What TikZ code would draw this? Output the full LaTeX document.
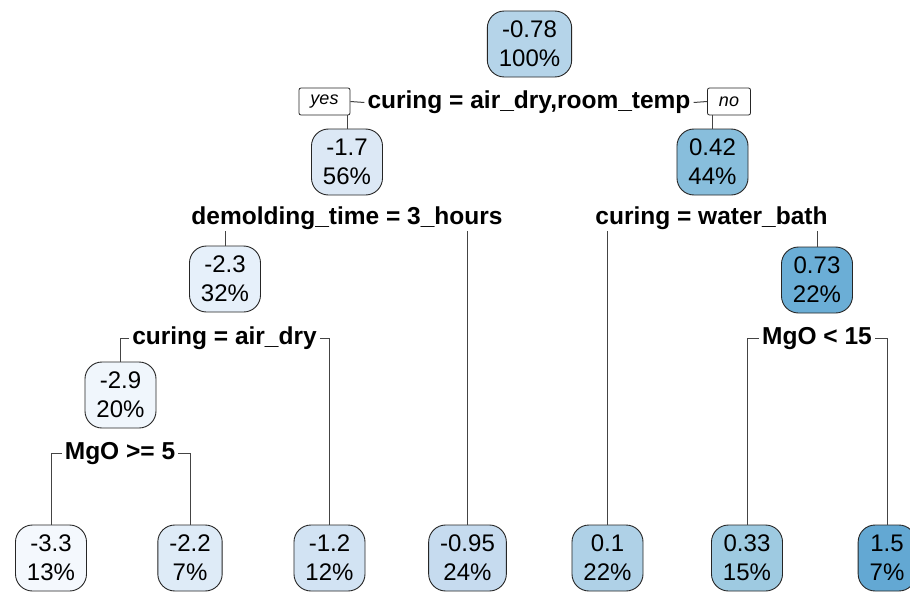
\documentclass[tikz,border=0pt]{standalone}
\usepackage{fontspec}
\setmainfont{Liberation Sans}
\definecolor{b01}{HTML}{F4F8FD}
\definecolor{b02}{HTML}{F0F6FC}
\definecolor{b03}{HTML}{E6F0FA}
\definecolor{b04}{HTML}{DEEBF7}
\definecolor{b05}{HTML}{DCE8F5}
\definecolor{b06}{HTML}{D2E3F3}
\definecolor{b07}{HTML}{C6DBEF}
\definecolor{b08}{HTML}{B5D4E9}
\definecolor{b09}{HTML}{AFD1E7}
\definecolor{b10}{HTML}{9ECAE1}
\definecolor{b11}{HTML}{88BEDC}
\definecolor{b12}{HTML}{6BAED6}
\definecolor{b13}{HTML}{63A8D3}
\definecolor{edge}{HTML}{444444}
\tikzset{
  treenode/.style={draw=black!85, line width=0.9pt, rounded corners=17pt,
    align=center, inner xsep=11.5pt, inner ysep=0pt, minimum height=66pt,
    font=\fontsize{24}{29}\selectfont},
  splitlabel/.style={inner xsep=3pt, inner ysep=1pt,
    font=\fontsize{24.5}{29}\selectfont\bfseries},
  answer/.style={draw=black!85, line width=0.8pt, rounded corners=2pt, fill=white,
    inner xsep=11.5pt, inner ysep=0pt, minimum height=27pt,
    font=\fontsize{18}{20}\selectfont\itshape},
  branch/.style={draw=edge, line width=1pt}
}
\begin{document}
\begin{tikzpicture}[x=1pt, y=-1pt]
\useasboundingbox (0,0) rectangle (910,594);
\fill[white] (0,0) rectangle (910,594);
\clip (0,0) rectangle (910,594);

% tree nodes: mean response and share of observations
\node[treenode, fill=b08] (n1)  at (529.5,44)  {-0.78\\100\%};
\node[treenode, fill=b05] (n2)  at (347,162)   {-1.7\\56\%};
\node[treenode, fill=b11] (n3)  at (712.5,162) {0.42\\44\%};
\node[treenode, fill=b03] (n4)  at (225,279)   {-2.3\\32\%};
\node[treenode, fill=b12] (n7)  at (817,280)   {0.73\\22\%};
\node[treenode, fill=b02] (n8)  at (120.5,395) {-2.9\\20\%};
\node[treenode, fill=b01] (n16) at (51,558)    {-3.3\\13\%};
\node[treenode, fill=b04] (n17) at (190,558)   {-2.2\\7\%};
\node[treenode, fill=b06] (n9)  at (329.5,558) {-1.2\\12\%};
\node[treenode, fill=b07] (n5)  at (467.5,558) {-0.95\\24\%};
\node[treenode, fill=b09] (n6)  at (607.5,558) {0.1\\22\%};
\node[treenode, fill=b10] (n14) at (747,558)   {0.33\\15\%};
\node[treenode, fill=b13] (n15) at (887,558)   {1.5\\7\%};

% split conditions
\node[splitlabel] (s1) at (529,102.5) {curing = air\_dry,room\_temp};
\node[splitlabel] (s2) at (347,218.5) {demolding\_time = 3\_hours};
\node[splitlabel] (s3) at (711.5,218.5) {curing = water\_bath};
\node[splitlabel] (s4) at (224.5,338.5) {curing = air\_dry};
\node[splitlabel] (s5) at (817,338.5) {MgO < 15};
\node[splitlabel] (s6) at (120,453.5) {MgO >= 5};

% yes / no tags at the root split
\node[answer] (yes) at (324.5,101.5) {yes};
\node[answer] (no)  at (729,101.5)   {no};

% branches
\draw[branch] (s1.west) -- (yes.east);
\draw[branch] (yes.south -| n2) -- (n2.north);
\draw[branch] (s1.east) -- (no.west);
\draw[branch] (no.south -| n3) -- (n3.north);

\draw[branch] (s2.south -| n4) -- (n4.north);
\draw[branch] (s2.south -| n5) -- (n5.north);

\draw[branch] (s3.south -| n6) -- (n6.north);
\draw[branch] (s3.south -| n7) -- (n7.north);

\draw[branch] (s4.west) -- (s4.west -| n8) -- (n8.north);
\draw[branch] (s4.east) -- (s4.east -| n9) -- (n9.north);

\draw[branch] (s5.west) -- (s5.west -| n14) -- (n14.north);
\draw[branch] (s5.east) -- (s5.east -| n15) -- (n15.north);

\draw[branch] (s6.west) -- (s6.west -| n16) -- (n16.north);
\draw[branch] (s6.east) -- (s6.east -| n17) -- (n17.north);
\end{tikzpicture}
\end{document}
